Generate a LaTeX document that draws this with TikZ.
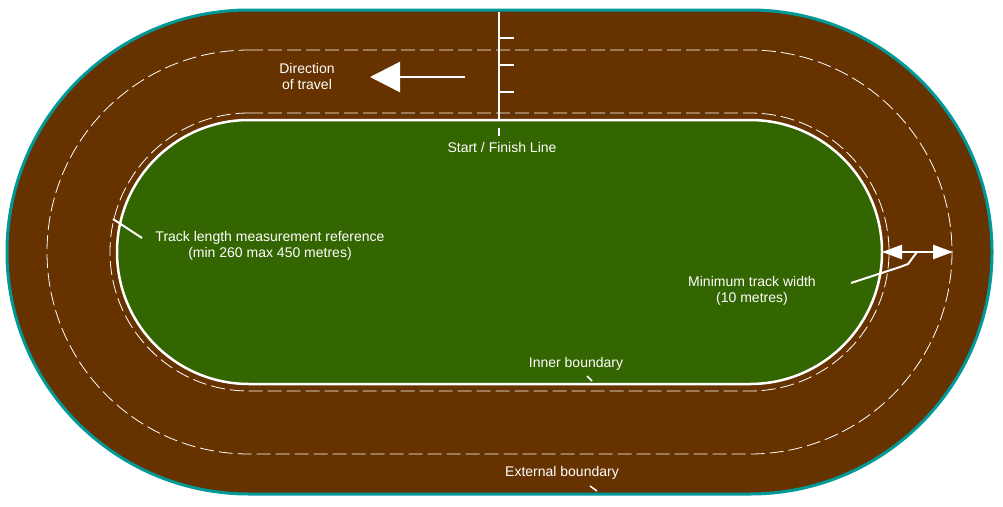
\documentclass[tikz,border=0pt]{standalone}
\usepackage{fontspec}
\setmainfont{Liberation Sans}
\usetikzlibrary{arrows.meta}
\definecolor{trackbrown}{HTML}{663300}
\definecolor{grass}{HTML}{336600}
\definecolor{edgeteal}{HTML}{009999}
\begin{document}
\begin{tikzpicture}[x=1pt,y=-1pt,
  lbl/.style={text=white,font=\fontsize{14}{16}\selectfont,align=center,inner sep=0},
  wl/.style={white,line width=2.5pt},
  dsh/.style={white,line width=0.8pt,dash pattern=on 14pt off 5pt}]
\useasboundingbox (0,0) rectangle (1003,506);
\def\stad#1{(249,{252-#1}) -- (750,{252-#1}) arc[start angle=-90,end angle=90,radius=#1] -- (249,{252+#1}) arc[start angle=90,end angle=270,radius=#1] -- cycle}
\fill[trackbrown,draw=edgeteal,line width=3pt] \stad{242};
\draw[dsh] \stad{202};
\draw[dsh] \stad{139};
\fill[grass,draw=white,line width=2.5pt] \stad{132};
% start line
\coordinate (s1) at (499,12); \coordinate (s2) at (499,120);
\draw[wl] (s1) -- (s2);
\draw[wl] (499,128) -- (499,136);
\foreach \y in {38,65,92} \draw[wl] (499,\y) -- (514,\y);
\node[lbl] (sf) at (502,147) {Start / Finish Line};
% direction
\coordinate (d1) at (465,77); \coordinate (d2) at (370,77);
\draw[wl,-{Triangle[length=30pt,width=30pt]}] (d1) -- (d2);
\node[lbl] (dir) at (307,76) {Direction\\of travel};
% track length
\node[lbl] (tl) at (270,246) {Track length measurement reference\\(min 260 max 450 metres)};
\coordinate (t1) at (142,238); \coordinate (t2) at (113,219);
\draw[white,line width=2pt] (t1) -- (t2);
% width
\coordinate (w1) at (882,252); \coordinate (w2) at (953,252);
\draw[white,line width=2.5pt,{Triangle[length=20pt,width=14pt]}-{Triangle[length=20pt,width=14pt]}] (w1) -- (w2);
\node[lbl] (mw) at (752,291) {Minimum track width\\(10 metres)};
\coordinate (m1) at (851,283); \coordinate (m2) at (917,252);
\draw[white,line width=2pt] (m1) -- (900,267) -- (908,264) -- (m2);
% boundaries
\node[lbl] (ib) at (576,364) {Inner boundary};
\draw[white,line width=1.5pt] (587,376) -- (592,381);
\node[lbl] (eb) at (562,473) {External boundary};
\draw[white,line width=1.5pt] (590,486) -- (597,491);
\end{tikzpicture}
\end{document}
